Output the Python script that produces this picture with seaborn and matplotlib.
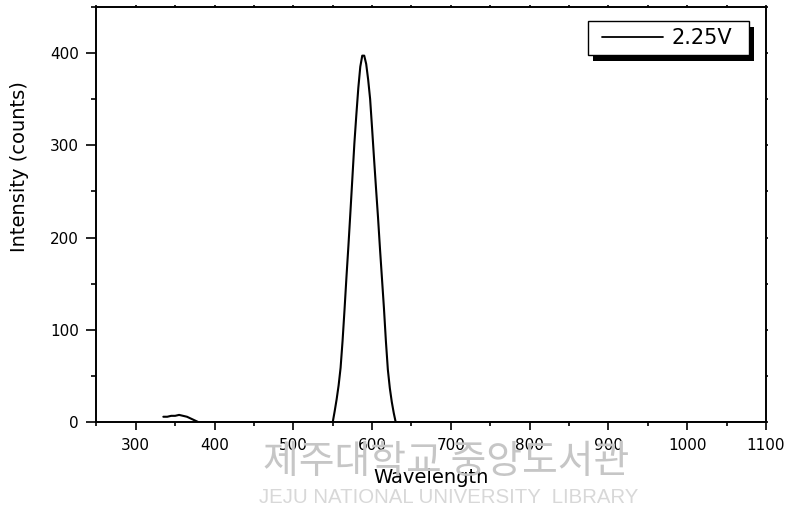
import matplotlib
matplotlib.use("Agg")
import matplotlib.pyplot as plt
from matplotlib.ticker import MultipleLocator
from matplotlib.patches import Rectangle
import seaborn as sns
import pandas as pd

# ---- data ----
wavelength = [335, 340, 345, 350, 355, 360, 365, 370, 375, 380, 400, 500, 545,
              550, 552.5, 555, 557.5, 560, 562.5, 565, 567.5, 570, 572.5, 575,
              577.5, 580, 582.5, 585, 587.5, 590, 592.5, 595, 597.5, 600, 602.5,
              605, 607.5, 610, 612.5, 615, 617.5, 620, 622.5, 625, 627.5, 630,
              635, 700, 800, 900, 1000, 1100]
intensity = [6, 6, 7, 7, 8, 7, 6, 4, 2, 0, 0, 0, 0,
             0, 12, 25, 40, 59, 88, 122, 158, 192, 228, 265,
             302, 333, 362, 385, 397, 397, 388, 371, 350, 318, 285,
             253, 222, 188, 156, 124, 88, 57, 37, 22, 10, 0,
             0, 0, 0, 0, 0, 0]
series_label = "2.25V"
x_label = "Wavelength"
y_label = "Intensity (counts)"
x_ticks = [300, 400, 500, 600, 700, 800, 900, 1000, 1100]
y_ticks = [0, 100, 200, 300, 400]
watermark_kr = "제주대학교 중앙도서관"
watermark_en = "JEJU NATIONAL UNIVERSITY  LIBRARY"

df = pd.DataFrame({"Wavelength": wavelength, "Intensity": intensity})

sns.set_theme(style="ticks")
plt.rcParams["font.family"] = ["DejaVu Sans"]
plt.rcParams["text.color"] = "black"
plt.rcParams["axes.labelcolor"] = "black"

fig = plt.figure(figsize=(7.9, 5.16), dpi=100)
ax = fig.add_axes([0.122, 0.1816, 0.8476, 0.8054])

# watermark (behind everything)
fig.text(0.565, 0.1056, watermark_kr, family=["Noto Sans CJK KR", "DejaVu Sans"],
         fontsize=28, color="#c6c6c6", ha="center", va="center", zorder=0)
fig.text(0.568, 0.036, watermark_en,
         family=["Liberation Sans", "DejaVu Sans"],
         fontsize=14.7, color="#d8d8d8", ha="center", va="center", zorder=0)

sns.lineplot(data=df, x="Wavelength", y="Intensity", ax=ax, color="black",
             linewidth=1.5, label=series_label, sort=False, estimator=None)

ax.set_xlim(250, 1100)
ax.set_ylim(0, 450)
ax.set_xticks(x_ticks)
ax.set_yticks(y_ticks)
ax.xaxis.set_minor_locator(MultipleLocator(50))
ax.yaxis.set_minor_locator(MultipleLocator(50))

for s in ax.spines.values():
    s.set_visible(True)
    s.set_linewidth(1.4)
    s.set_color("black")

ax.tick_params(axis="both", which="major", direction="out", length=5.5, width=1.2,
               labelsize=11, pad=5.5, colors="black")
ax.tick_params(axis="both", which="minor", direction="out", length=3, width=1.2,
               colors="black")
ax.tick_params(axis="y", which="major", length=7)
ax.tick_params(axis="y", which="minor", length=3.6)
ax.tick_params(top=True, right=True, which="both")
for t in ax.xaxis.get_major_ticks() + ax.xaxis.get_minor_ticks():
    t.tick2line.set_markersize(1.5)
for t in ax.yaxis.get_major_ticks() + ax.yaxis.get_minor_ticks():
    t.tick2line.set_markersize(1.5)

ax.set_xlabel(x_label, fontsize=14, color="black")
ax.set_ylabel(y_label, fontsize=14, color="black")
ax.xaxis.set_label_coords(0.5, -0.11)
ax.yaxis.set_label_coords(-0.10, 0.615)

# legend: box with solid offset shadow drawn in axes coordinates
bx0, bx1, by0, by1 = 0.7342, 0.9746, 0.8838, 0.9656
sdx, sdy = 0.0075, 0.0144
ax.add_patch(Rectangle((bx0 + sdx, by0 - sdy), bx1 - bx0, by1 - by0,
                       transform=ax.transAxes, facecolor="black", edgecolor="black",
                       linewidth=0, zorder=4, clip_on=False))
ax.add_patch(Rectangle((bx0, by0), bx1 - bx0, by1 - by0,
                       transform=ax.transAxes, facecolor="white", edgecolor="black",
                       linewidth=1.0, zorder=5, clip_on=False))
leg = ax.legend(loc="center left", bbox_to_anchor=(0.7546, (by0 + by1) / 2),
                borderaxespad=0, borderpad=0, fontsize=15, frameon=False,
                handlelength=2.93, handletextpad=0.4)
leg.set_zorder(6)
for h in leg.get_lines():
    h.set_linewidth(1.3)
    h.set_color("black")

fig.savefig("out.png", dpi=100, facecolor="white")
